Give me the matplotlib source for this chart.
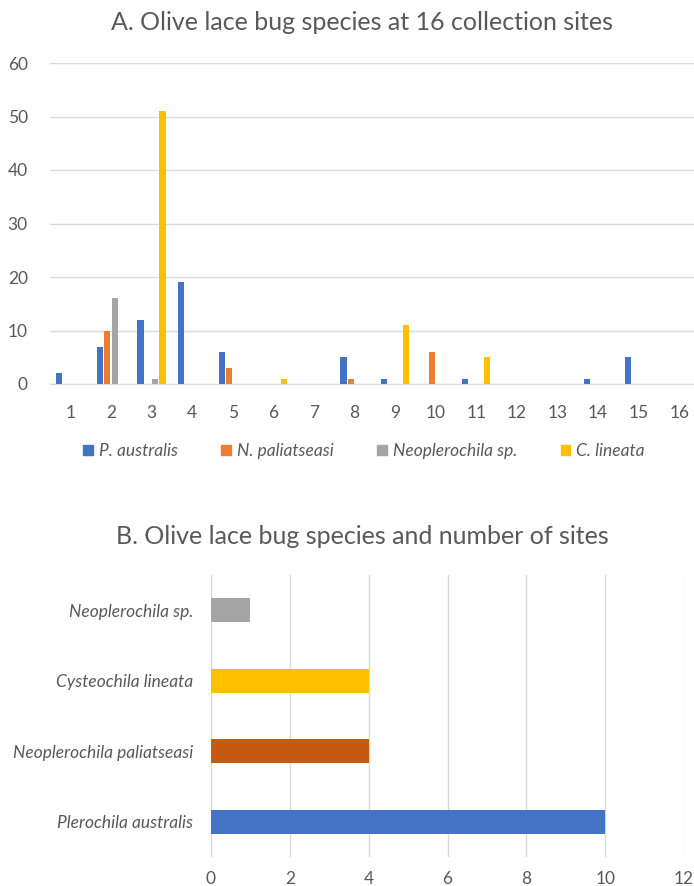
import matplotlib
matplotlib.use('Agg')
import matplotlib.pyplot as plt
import numpy as np

plt.rcParams['font.family'] = ['Lato', 'DejaVu Sans']

# chart A data: counts per collection site
sites = [str(i) for i in range(1, 17)]
p_australis = [2, 7, 12, 19, 6, 0, 0, 5, 1, 0, 1, 0, 0, 1, 5, 0]
n_paliatseasi = [0, 10, 0, 0, 3, 0, 0, 1, 0, 6, 0, 0, 0, 0, 0, 0]
neoplerochila = [0, 16, 1, 0, 0, 0, 0, 0, 0, 0, 0, 0, 0, 0, 0, 0]
c_lineata = [0, 0, 51, 0, 0, 1, 0, 0, 11, 0, 5, 0, 0, 0, 0, 0]
series_names = ['P. australis', 'N. paliatseasi', 'Neoplerochila sp.', 'C. lineata']
series_colors = ['#4472C4', '#ED7D31', '#A5A5A5', '#FFC000']

# chart B data: number of sites per species
species = ['Plerochila australis', 'Neoplerochila paliatseasi', 'Cysteochila lineata', 'Neoplerochila sp.']
n_sites = [10, 4, 4, 1]
species_colors = ['#4472C4', '#C55A11', '#FFC000', '#A5A5A5']

txt = '#595959'
grid = '#D9D9D9'
W, H = 694, 886

fig = plt.figure(figsize=(W / 100, H / 100), dpi=100)

# ---- chart A
axA = fig.add_axes([50 / W, (H - 384) / H, 644 / W, 321 / H])
x = np.arange(1, 17)
bw = 0.15
step = 0.18
allvals = [p_australis, n_paliatseasi, neoplerochila, c_lineata]
for k, (vals, c) in enumerate(zip(allvals, series_colors)):
    off = (k - 1.5) * step
    v = np.array(vals, dtype=float)
    m = v > 0
    axA.bar(x[m] + off, v[m], width=bw, color=c, zorder=3)
axA.set_xlim(0.5, 0.5 + 644 / 40.6)
axA.set_ylim(0, 60)
axA.set_yticks(range(0, 61, 10))
axA.set_xticks(x)
axA.set_xticklabels(sites)
axA.yaxis.grid(True, color=grid, lw=1, zorder=0)
for s in ['top', 'right', 'left']:
    axA.spines[s].set_visible(False)
axA.spines['bottom'].set_color(grid)
axA.tick_params(length=0, colors=txt, labelsize=12.5)
axA.tick_params(axis='y', pad=16)
axA.tick_params(axis='x', pad=15)
fig.text(362 / W, 1 - 22 / H, 'A. Olive lace bug species at 16 collection sites',
         ha='center', va='center', fontsize=18, color=txt)

handles = [plt.Rectangle((0, 0), 1, 1, color=c) for c in series_colors]
leg = fig.legend(handles, series_names, loc='center', bbox_to_anchor=(364 / W, 1 - 451 / H),
                 ncol=4, frameon=False, handlelength=0.55, handleheight=0.55, handletextpad=0.35,
                 columnspacing=2.5, prop={'style': 'italic', 'size': 12.5})
for t in leg.get_texts():
    t.set_color(txt)

# ---- chart B
axB = fig.add_axes([211 / W, (H - 857) / H, 473 / W, 282 / H])
y = np.arange(len(species))
axB.barh(y, n_sites, height=0.34, color=species_colors, zorder=3)
axB.set_xlim(0, 12)
axB.set_ylim(-0.5, 3.5)
axB.set_xticks(range(0, 13, 2))
axB.set_yticks(y)
axB.set_yticklabels(species, style='italic')
axB.xaxis.grid(True, color=grid, lw=1, zorder=0)
for s in axB.spines.values():
    s.set_visible(False)
axB.tick_params(length=0, colors=txt, labelsize=12.5)
axB.tick_params(axis='x', pad=10)
axB.tick_params(axis='y', pad=13)
fig.text(362 / W, 1 - 536 / H, 'B. Olive lace bug species and number of sites',
         ha='center', va='center', fontsize=18, color=txt)

fig.savefig('out.png', dpi=100)
